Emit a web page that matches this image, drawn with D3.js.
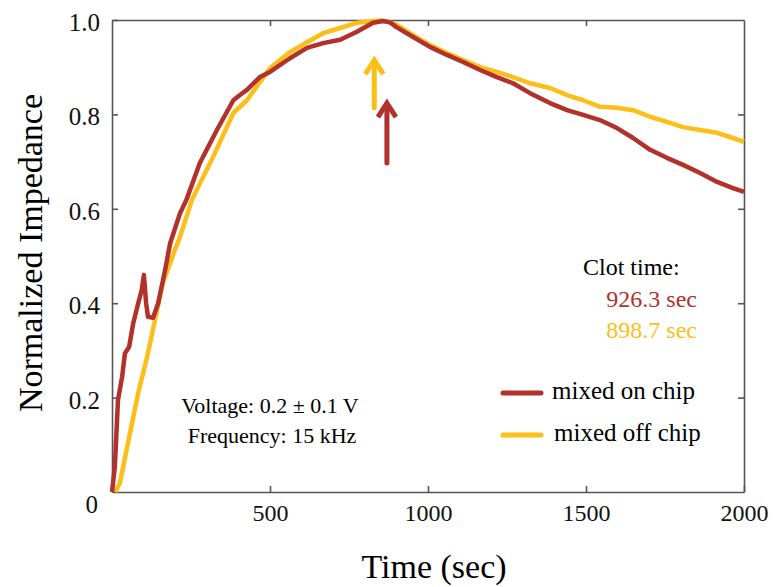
<!DOCTYPE html>
<html>
<head>
<meta charset="utf-8">
<script src="https://cdn.jsdelivr.net/npm/d3@7"></script>
<style>
  body { margin: 0; background: #fff; }
  text { font-family: "Liberation Serif", "Times New Roman", serif; }
</style>
</head>
<body>
<div id="chart"></div>
<script>
// data
const onChipTime = [0, 9, 19, 32, 41, 54, 67, 83, 94, 101, 108, 114, 130, 146, 168, 184, 215, 236, 278, 332, 384, 405, 427, 468, 500, 563, 617, 668, 722, 775, 826, 858, 880, 900, 953, 1006, 1060, 1111, 1165, 1218, 1269, 1323, 1386, 1440, 1491, 1544, 1598, 1649, 1703, 1756, 1807, 1861, 1915, 1965, 2000];
const onChipValue = [0, 0.053, 0.195, 0.244, 0.294, 0.307, 0.357, 0.40, 0.428, 0.46, 0.40, 0.371, 0.369, 0.40, 0.47, 0.527, 0.59, 0.62, 0.697, 0.767, 0.83, 0.841, 0.852, 0.879, 0.89, 0.919, 0.941, 0.951, 0.958, 0.975, 0.994, 0.998, 0.995, 0.985, 0.964, 0.943, 0.926, 0.911, 0.894, 0.879, 0.866, 0.845, 0.824, 0.809, 0.799, 0.788, 0.771, 0.75, 0.725, 0.708, 0.693, 0.676, 0.657, 0.644, 0.636];

const offChipTime = [10, 25, 57, 83, 111, 136, 161, 199, 215, 253, 320, 384, 427, 468, 500, 563, 617, 668, 722, 775, 826, 850, 880, 900, 953, 1006, 1060, 1111, 1165, 1218, 1269, 1323, 1386, 1440, 1491, 1544, 1598, 1649, 1703, 1756, 1807, 1861, 1915, 1965, 2000];
const offChipValue = [0, 0.019, 0.125, 0.21, 0.286, 0.364, 0.443, 0.513, 0.54, 0.619, 0.71, 0.803, 0.83, 0.868, 0.898, 0.932, 0.953, 0.972, 0.983, 0.994, 0.998, 0.999, 0.995, 0.99, 0.968, 0.947, 0.93, 0.915, 0.90, 0.89, 0.879, 0.866, 0.856, 0.841, 0.83, 0.816, 0.814, 0.809, 0.795, 0.784, 0.773, 0.767, 0.761, 0.75, 0.742];

const seriesNames = ["mixed on chip", "mixed off chip"];
const clotTimes = ["926.3 sec", "898.7 sec"];
// arrows: [time, tail value, tip value]
const arrowOn = [870, 0.697, 0.824];
const arrowOff = [830, 0.814, 0.915];

const xTicks = [500, 1000, 1500, 2000];
const yTicks = [0.2, 0.4, 0.6, 0.8, 1.0];

const RED = "#b2312b";
const YELLOW = "#fdbe17";
const AXIS = "#555";

const MARGIN = { LEFT: 112, TOP: 20, RIGHT: 30, BOTTOM: 95 };
const WIDTH = 774 - MARGIN.LEFT - MARGIN.RIGHT;
const HEIGHT = 587 - MARGIN.TOP - MARGIN.BOTTOM;

const svg = d3.select("#chart").append("svg")
    .attr("width", 774)
    .attr("height", 587);

const g = svg.append("g")
    .attr("transform", `translate(${MARGIN.LEFT}, ${MARGIN.TOP})`);

const x = d3.scaleLinear().domain([0, 2000]).range([0, WIDTH]);
const y = d3.scaleLinear().domain([0, 1]).range([HEIGHT, 0]);

// axes, ticks pointing inward
const xAxisGroup = g.append("g")
    .attr("transform", `translate(0, ${HEIGHT})`)
    .call(d3.axisBottom(x).tickValues(xTicks).tickFormat(d3.format("d"))
        .tickSizeInner(-6).tickSizeOuter(0).tickPadding(12));
xAxisGroup.selectAll("text").attr("font-size", "24px").attr("fill", "#111");

const yAxisGroup = g.append("g")
    .call(d3.axisLeft(y).tickValues(yTicks).tickFormat(d3.format(".1f"))
        .tickSizeInner(-6).tickSizeOuter(0).tickPadding(12));
yAxisGroup.selectAll("text").attr("font-size", "25px").attr("fill", "#111").attr("dy", "0.42em");

g.append("g")
    .call(d3.axisTop(x).tickValues([500, 1000, 1500]).tickSizeInner(-6).tickSizeOuter(0).tickFormat(""));
g.append("g")
    .attr("transform", `translate(${WIDTH}, 0)`)
    .call(d3.axisRight(y).tickValues([0.2, 0.4, 0.6, 0.8]).tickSizeInner(-6).tickSizeOuter(0).tickFormat(""));

g.selectAll(".domain, .tick line").attr("stroke", AXIS).attr("stroke-width", 1.6);

// corner zero
g.append("text")
    .attr("x", -14)
    .attr("y", HEIGHT + 21)
    .attr("font-size", "25px")
    .attr("text-anchor", "end")
    .attr("fill", "#111")
    .text("0");

// axis titles
svg.append("text")
    .attr("x", 434)
    .attr("y", 578)
    .attr("font-size", "34px")
    .attr("text-anchor", "middle")
    .text("Time (sec)");

svg.append("text")
    .attr("transform", "rotate(-90)")
    .attr("x", -253)
    .attr("y", 42)
    .attr("font-size", "34px")
    .attr("text-anchor", "middle")
    .text("Normalized Impedance");

// curves
const line = d3.line()
    .x(d => x(d[0]))
    .y(d => y(d[1]));

const offChip = offChipTime.map((t, i) => [t, offChipValue[i]]);
const onChip = onChipTime.map((t, i) => [t, onChipValue[i]]);

g.append("path")
    .datum(offChip)
    .attr("fill", "none")
    .attr("stroke", YELLOW)
    .attr("stroke-width", 4.5)
    .attr("stroke-linejoin", "round")
    .attr("d", line);

g.append("path")
    .datum(onChip)
    .attr("fill", "none")
    .attr("stroke", RED)
    .attr("stroke-width", 4.5)
    .attr("stroke-linejoin", "round")
    .attr("d", line);

// clot time arrows
function drawArrow(a, color) {
    const ax = x(a[0]), y0 = y(a[1]), y1 = y(a[2]);
    g.append("line")
        .attr("x1", ax).attr("x2", ax)
        .attr("y1", y0).attr("y2", y1 + 2)
        .attr("stroke", color)
        .attr("stroke-width", 5)
        .attr("stroke-linecap", "round");
    g.append("path")
        .attr("d", `M${ax - 9},${y1 + 14} L${ax},${y1} L${ax + 9},${y1 + 14}`)
        .attr("fill", "none")
        .attr("stroke", color)
        .attr("stroke-width", 5)
        .attr("stroke-linejoin", "miter");
}
drawArrow(arrowOff, YELLOW);
drawArrow(arrowOn, RED);

// annotations
svg.append("text")
    .attr("x", 270).attr("y", 413)
    .attr("font-size", "22px")
    .attr("text-anchor", "middle")
    .text("Voltage: 0.2 \u00b1 0.1 V");
svg.append("text")
    .attr("x", 272).attr("y", 443)
    .attr("font-size", "22px")
    .attr("text-anchor", "middle")
    .text("Frequency: 15 kHz");

svg.append("text")
    .attr("x", 583).attr("y", 275)
    .attr("font-size", "24px")
    .text("Clot time:");
svg.append("text")
    .attr("x", 697).attr("y", 307)
    .attr("font-size", "24px")
    .attr("text-anchor", "end")
    .attr("fill", RED)
    .text(clotTimes[0]);
svg.append("text")
    .attr("x", 697).attr("y", 338)
    .attr("font-size", "24px")
    .attr("text-anchor", "end")
    .attr("fill", YELLOW)
    .text(clotTimes[1]);

// legend
const legend = svg.append("g").attr("transform", "translate(503, 393)");
[RED, YELLOW].forEach((c, i) => {
    legend.append("line")
        .attr("x1", 0).attr("x2", 38)
        .attr("y1", i * 42).attr("y2", i * 42)
        .attr("stroke", c)
        .attr("stroke-width", 5)
        .attr("stroke-linecap", "round");
    legend.append("text")
        .attr("x", 49 + i * 2)
        .attr("y", i * 42 + 6)
        .attr("font-size", "25px")
        .text(seriesNames[i]);
});
</script>
</body>
</html>
